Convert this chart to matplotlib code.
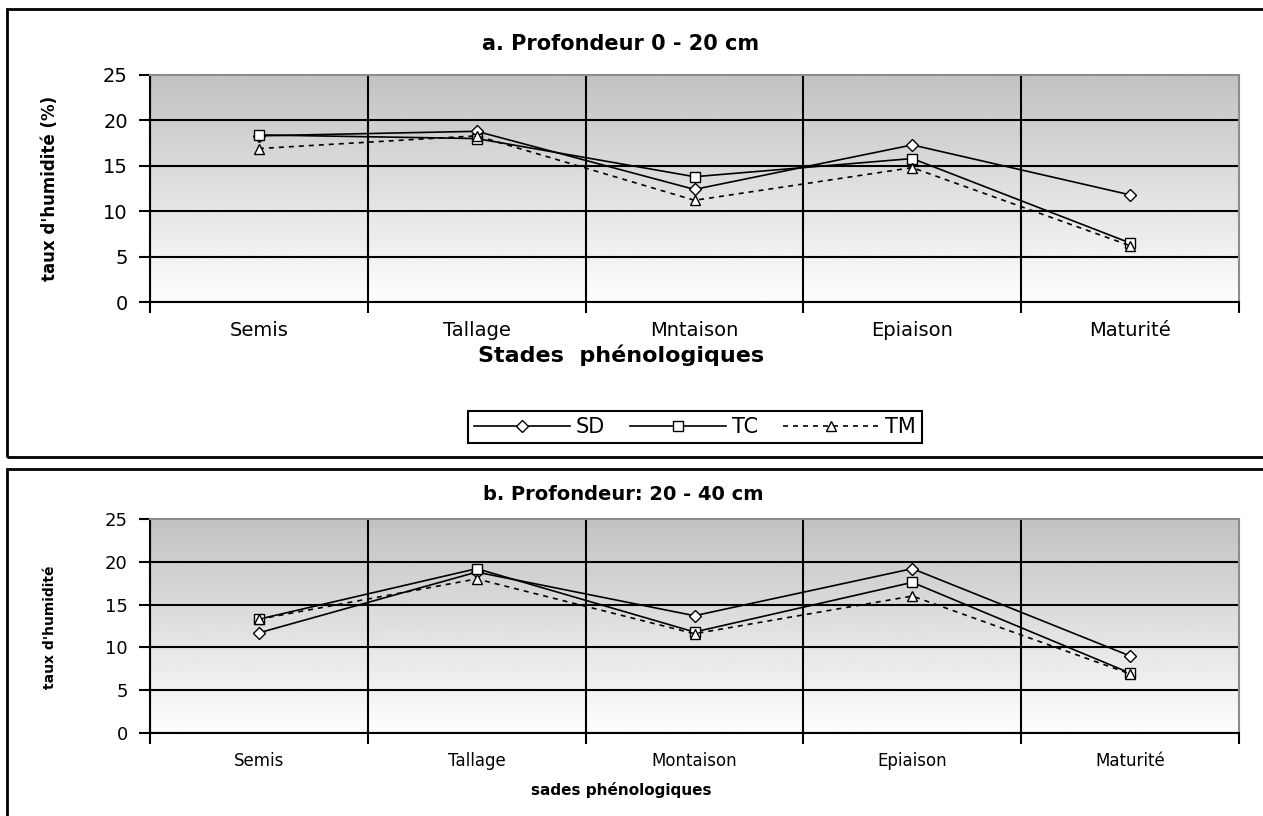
import matplotlib
matplotlib.use("Agg")
import matplotlib.pyplot as plt
from matplotlib.patches import Rectangle
import numpy as np

# data
stades_a = ["Semis", "Tallage", "Mntaison", "Epiaison", "Maturité"]
stades_b = ["Semis", "Tallage", "Montaison", "Epiaison", "Maturité"]
series = ["SD", "TC", "TM"]

sd_a = [18.3, 18.8, 12.4, 17.3, 11.8]
tc_a = [18.4, 18.0, 13.8, 15.8, 6.5]
tm_a = [16.9, 18.3, 11.2, 14.8, 6.2]

sd_b = [11.7, 18.8, 13.7, 19.2, 9.0]
tc_b = [13.3, 19.2, 11.8, 17.6, 7.0]
tm_b = [13.3, 18.0, 11.6, 16.0, 6.9]

y_ticks = [0, 5, 10, 15, 20, 25]

W, H = 1263, 816
fig = plt.figure(figsize=(W / 100, H / 100), dpi=100)


def px(x0, y0, x1, y1):
    # pixel box (from top-left) -> figure fraction rect
    return [x0 / W, 1 - y1 / H, (x1 - x0) / W, (y1 - y0) / H]


styles = {
    "SD": dict(ls="-", marker="D", ms=6),
    "TC": dict(ls="-", marker="s", ms=7),
    "TM": dict(ls=(0, (3, 3)), marker="^", ms=7),
}


def panel(rect, labels, values, tick_size_x, tick_size_y):
    ax = fig.add_axes(rect)
    ax.set_facecolor("none")
    x = np.arange(len(labels))
    # grey at the top fading to white at the bottom
    grad = np.linspace(0.76, 0.995, 256).reshape(-1, 1)
    ax.imshow(grad, extent=(-0.5, len(labels) - 0.5, 0, 25), aspect="auto",
              cmap="gray", vmin=0, vmax=1, zorder=0, origin="upper")
    for name, vals in zip(series, values):
        st = styles[name]
        ax.plot(x, vals, color="black", lw=1.2, ls=st["ls"], marker=st["marker"],
                ms=st["ms"], mfc="white", mec="black", mew=1.0, label=name, zorder=3)
    ax.set_xlim(-0.5, len(labels) - 0.5)
    ax.set_ylim(0, 25)

    ax.set_xticks(x)
    ax.set_xticklabels(labels, fontsize=tick_size_x, family="DejaVu Sans")
    ax.tick_params(axis="x", which="major", length=0, pad=14)
    ax.set_xticks(np.arange(-0.5, len(labels)), minor=True)
    ax.tick_params(axis="x", which="minor", length=8, width=1.5, direction="out")
    ax.grid(True, axis="x", which="minor", color="black", lw=1.5)
    ax.xaxis.get_minor_ticks()[-1].gridline.set_visible(False)

    ax.set_yticks(y_ticks)
    ax.set_yticklabels([str(v) for v in y_ticks], fontsize=tick_size_y, family="DejaVu Sans")
    ax.tick_params(axis="y", length=8, width=1.5, direction="out", pad=8)
    ax.grid(True, axis="y", which="major", color="black", lw=1.5)
    ax.yaxis.get_major_ticks()[-1].gridline.set_visible(False)

    for s in ["left", "bottom"]:
        ax.spines[s].set_color("black")
        ax.spines[s].set_linewidth(1.5)
    for s in ["top", "right"]:
        ax.spines[s].set_color("#8c8c8c")
        ax.spines[s].set_linewidth(1.5)
    return ax


ax_a = panel(px(150, 75, 1239, 302), stades_a, [sd_a, tc_a, tm_a], 14, 14)
ax_b = panel(px(150, 519, 1239, 733), stades_b, [sd_b, tc_b, tm_b], 12, 13)

# panel frames
fig.patches.append(Rectangle((7 / W, 1 - 457 / H), 1.2, (457 - 9) / H,
                             transform=fig.transFigure, fill=False, ec="black", lw=2))
fig.patches.append(Rectangle((7 / W, -0.1), 1.2, 0.1 + (816 - 469) / H,
                             transform=fig.transFigure, fill=False, ec="black", lw=2))

# texts
fig.text(621 / W, 1 - 44 / H, "a. Profondeur 0 - 20 cm", ha="center", va="center",
         fontsize=15, fontweight="bold")
fig.text(621 / W, 1 - 355 / H, "Stades  phénologiques", ha="center", va="center",
         fontsize=16, fontweight="bold")
fig.text(50 / W, 1 - 188 / H, "taux d'humidité (%)", ha="center", va="center",
         rotation=90, fontsize=12, fontweight="bold")

fig.text(623 / W, 1 - 495 / H, "b. Profondeur: 20 - 40 cm", ha="center", va="center",
         fontsize=14, fontweight="bold")
fig.text(621 / W, 1 - 790 / H, "sades phénologiques", ha="center", va="center",
         fontsize=11, fontweight="bold")
fig.text(50 / W, 1 - 627 / H, "taux d'humidité", ha="center", va="center",
         rotation=90, fontsize=10, fontweight="bold")

leg = fig.legend(*ax_a.get_legend_handles_labels(), loc="center", ncol=3,
                 bbox_to_anchor=(695 / W, 1 - 427 / H), frameon=True, fancybox=False,
                 fontsize=15, handlelength=4.6, handletextpad=0.3, columnspacing=1.2,
                 borderpad=0.3, edgecolor="black", framealpha=1)
leg.get_frame().set_linewidth(1.5)

fig.savefig("out.png", dpi=100)
